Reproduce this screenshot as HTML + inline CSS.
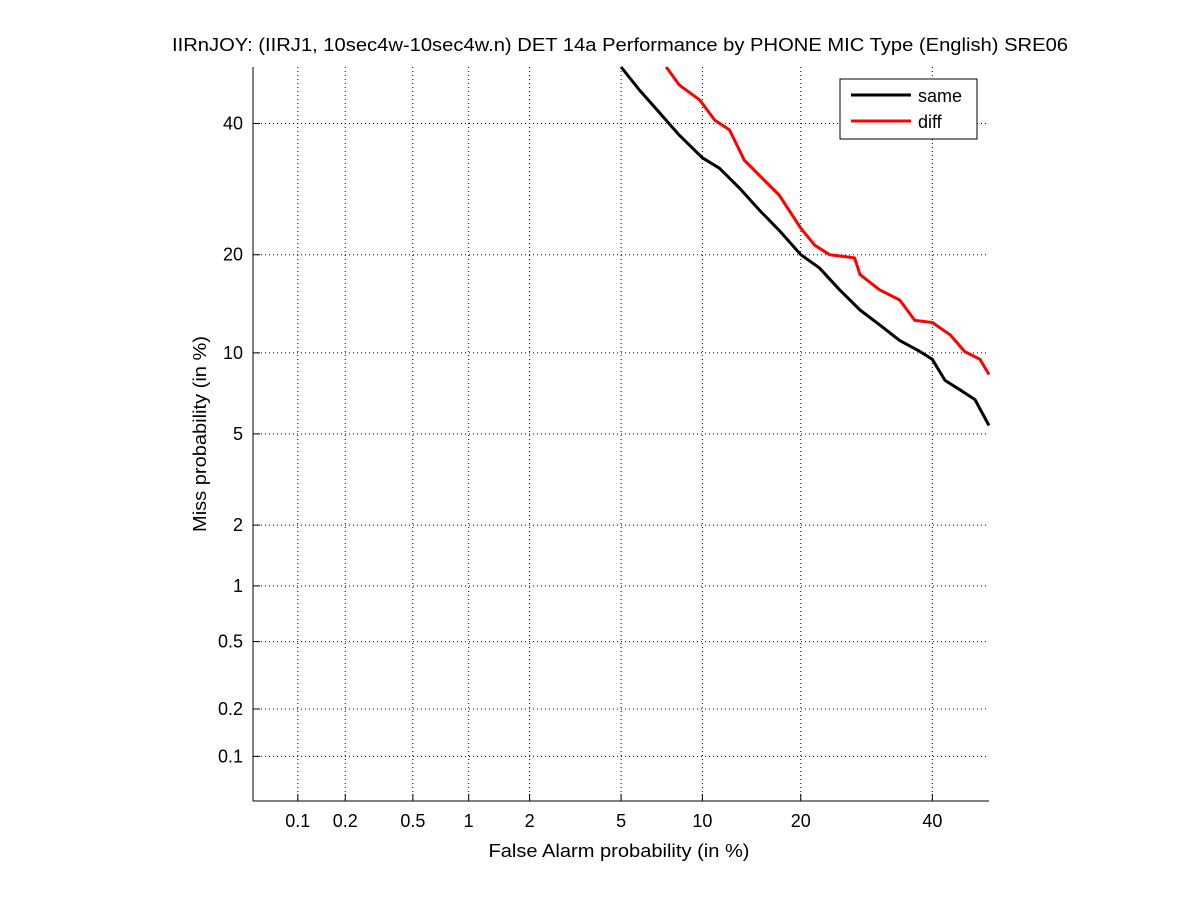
<!DOCTYPE html>
<html><head><meta charset="utf-8"><style>
body{margin:0;background:#fff;}
svg{display:block;font-family:"Liberation Sans",sans-serif;}
</style></head><body>
<svg id="chart" width="1200" height="901">
<text x="620" y="51" font-size="18" text-anchor="middle" textLength="896" lengthAdjust="spacingAndGlyphs">IIRnJOY: (IIRJ1, 10sec4w-10sec4w.n) DET 14a Performance by PHONE MIC Type (English) SRE06</text>
<text x="619" y="857" font-size="18" text-anchor="middle" textLength="261" lengthAdjust="spacingAndGlyphs">False Alarm probability (in %)</text>
<text transform="translate(206,434) rotate(-90)" font-size="18" text-anchor="middle" textLength="196" lengthAdjust="spacingAndGlyphs">Miss probability (in %)</text>
<g id="grid"></g><g id="axes"></g><g id="series"></g>
<g>
<rect x="840" y="79" width="137" height="60" fill="#fff" stroke="#000" stroke-width="1"/>
<line x1="851" y1="95" x2="911" y2="95" stroke="#000" stroke-width="3"/>
<text x="918" y="102" font-size="18">same</text>
<line x1="851" y1="121" x2="911" y2="121" stroke="#f00" stroke-width="3"/>
<text x="918" y="128" font-size="18">diff</text>
</g>
</svg>
<script>
const xTicks=[0.1,0.2,0.5,1,2,5,10,20,40];
const yTicks=[0.1,0.2,0.5,1,2,5,10,20,40];
const sameFA=[5,5.9,7.0,8.3,10,11.4,13.2,15.2,17.4,20,22.4,25.2,28.2,31.2,34.5,37.9,40,42.2,44.8,47.5,50];
const sameMiss=[50,45.9,42.0,38.0,34.2,32.5,29.4,26.1,23.2,20,18.4,15.9,13.8,12.4,11.0,10.1,9.5,8.0,7.4,6.8,5.4];
const diffFA=[7.45,8.3,9.8,11.0,12.3,13.7,15.2,17.4,20,21.8,23.8,27.4,28.2,31.2,34.5,37.0,40,43.1,45.7,48.4,50];
const diffMiss=[50,46.8,44.1,40.6,38.9,33.8,31.4,28.3,23.5,21.2,20,19.6,17.6,15.9,14.8,12.8,12.6,11.5,10.1,9.5,8.4];
function ninv(p){const a=[-39.6968302866538,220.946098424521,-275.928510446969,138.357751867269,-30.6647980661472,2.50662827745924],b=[-54.4760987982241,161.585836858041,-155.698979859887,66.8013118877197,-13.2806815528857],c=[-0.00778489400243029,-0.322396458041136,-2.40075827716184,-2.54973253934373,4.37466414146497,2.93816398269878],d=[0.00778469570904146,0.32246712907004,2.445134137143,3.75440866190742];let q,r;
if(p<0.02425){q=Math.sqrt(-2*Math.log(p));return(((((c[0]*q+c[1])*q+c[2])*q+c[3])*q+c[4])*q+c[5])/((((d[0]*q+d[1])*q+d[2])*q+d[3])*q+1);}
if(p>1-0.02425){q=Math.sqrt(-2*Math.log(1-p));return-(((((c[0]*q+c[1])*q+c[2])*q+c[3])*q+c[4])*q+c[5])/((((d[0]*q+d[1])*q+d[2])*q+d[3])*q+1);}
q=p-0.5;r=q*q;return(((((a[0]*r+a[1])*r+a[2])*r+a[3])*r+a[4])*r+a[5])*q/(((((b[0]*r+b[1])*r+b[2])*r+b[3])*r+b[4])*r+1);}
const L=253,R=989,T=67,B=801;
const zmin=ninv(0.0005),zmax=ninv(0.5);
const xs=v=>L+(ninv(v/100)-zmin)/(zmax-zmin)*(R-L);
const ys=v=>B-(ninv(v/100)-zmin)/(zmax-zmin)*(B-T);
const NS="http://www.w3.org/2000/svg";
function mk(tag,attrs,parent){const e=document.createElementNS(NS,tag);for(const k in attrs)e.setAttribute(k,attrs[k]);parent.appendChild(e);return e;}
const grid=document.getElementById('grid'),axes=document.getElementById('axes'),ser=document.getElementById('series');
xTicks.forEach(t=>{const x=xs(t);
const g=mk('line',{x1:x,y1:T,x2:x,y2:B,stroke:'#000','stroke-width':1,'stroke-dasharray':'1,3'},grid);


const tk=mk('line',{x1:x,y1:B,x2:x,y2:B-7,stroke:'#000'},axes);


const tx=mk('text',{x:x,y:B+26,'font-size':18,'text-anchor':'middle'},axes);tx.textContent=t;

});
yTicks.forEach(t=>{const y=ys(t);
const g=mk('line',{x1:L,y1:y,x2:R,y2:y,stroke:'#000','stroke-width':1,'stroke-dasharray':'1,3'},grid);


const tk=mk('line',{x1:L,y1:y,x2:L+7,y2:y,stroke:'#000'},axes);


const tx=mk('text',{x:L-10,y:y+6,'font-size':18,'text-anchor':'end'},axes);tx.textContent=t;

});
const ax1=mk('line',{x1:L,y1:T,x2:L,y2:B,stroke:'#000'},axes);


const ax2=mk('line',{x1:L,y1:B,x2:R,y2:B,stroke:'#000'},axes);


function draw(fa,miss,color,name){let d='';fa.forEach((v,i)=>{d+=(i?'L':'M')+xs(v).toFixed(1)+','+ys(miss[i]).toFixed(1);});
const p=mk('path',{d:d,fill:'none',stroke:color,'stroke-width':3,'stroke-linejoin':'round'},ser);

}
draw(sameFA,sameMiss,'#000','same-curve');
draw(diffFA,diffMiss,'#f00','diff-curve');
</script>
</body></html>
